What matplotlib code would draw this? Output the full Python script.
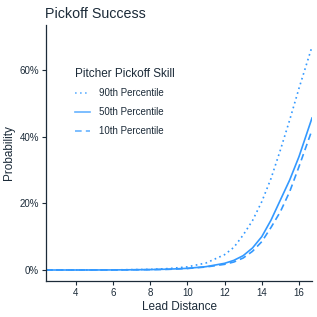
import matplotlib
matplotlib.use("Agg")
import matplotlib.pyplot as plt
from matplotlib.ticker import FuncFormatter

plt.rcParams['font.family'] = ['Liberation Sans', 'DejaVu Sans']

lead = [2.4, 4, 6, 8, 9, 10, 11, 12, 12.5, 13, 13.5, 14, 14.5, 15, 15.5, 16, 16.7]
p90 = [0.0, 0.0, 0.03, 0.19, 0.43, 0.94, 2.1, 4.6, 6.8, 10.5, 14.8, 20.5, 27.5, 36.0, 45.0, 54.5, 67.0]
p50 = [0.0, 0.0, 0.02, 0.12, 0.25, 0.5, 1.0, 2.0, 2.9, 4.3, 6.6, 10.0, 15.0, 21.0, 27.0, 34.0, 45.6]
p10 = [0.0, 0.0, 0.01, 0.10, 0.20, 0.45, 0.9, 1.7, 2.4, 3.6, 5.6, 8.5, 12.8, 17.5, 23.5, 31.0, 42.0]
labels = ["90th Percentile", "50th Percentile", "10th Percentile"]
xticks = [4, 6, 8, 10, 12, 14, 16]
yticks = [0, 20, 40, 60]

txt = '#1c2b39'
col = '#3399ff'

fig = plt.figure(figsize=(3.17, 3.17), dpi=100)
ax = fig.add_axes([46/317, 1-281/317, (312-46)/317, (281-25)/317])

ax.plot(lead, p90, color=col, lw=1.2, ls=(0, (1, 2)), label=labels[0])
ax.plot(lead, p50, color=col, lw=1.2, ls='-', label=labels[1])
ax.plot(lead, p10, color=col, lw=1.2, ls=(0, (4, 2.5)), label=labels[2])

ax.set_xlim(2.4, 16.7)
ax.set_ylim(-3.3, 73.5)
ax.set_xticks(xticks)
ax.set_yticks(yticks)
ax.yaxis.set_major_formatter(FuncFormatter(lambda v, p: f"{int(v)}%"))
for s in ['top', 'right']:
    ax.spines[s].set_visible(False)
for s in ['left', 'bottom']:
    ax.spines[s].set_color(txt)
    ax.spines[s].set_linewidth(0.9)
ax.tick_params(colors=txt, labelsize=7, length=3, width=0.8, pad=2)
ax.set_xlabel("Lead Distance", fontsize=8.5, color=txt, labelpad=2)
ax.set_ylabel("Probability", fontsize=8.5, color=txt, labelpad=3)
fig.text(45/317, 1-18/317, "Pickoff Success", fontsize=10.3, color=txt, ha='left', va='baseline')

leg = ax.legend(title="Pitcher Pickoff Skill", loc='upper left',
                bbox_to_anchor=(66/317, 1-59/317), bbox_transform=fig.transFigure,
                frameon=False, fontsize=7, title_fontsize=8.5,
                handlelength=1.6, handletextpad=0.9, labelspacing=0.9)
leg._legend_box.align = "left"
leg.get_title().set_color(txt)
for t in leg.get_texts():
    t.set_color(txt)
for h in leg.get_lines():
    h.set_alpha(0.75)

fig.savefig("out.png", dpi=100)
